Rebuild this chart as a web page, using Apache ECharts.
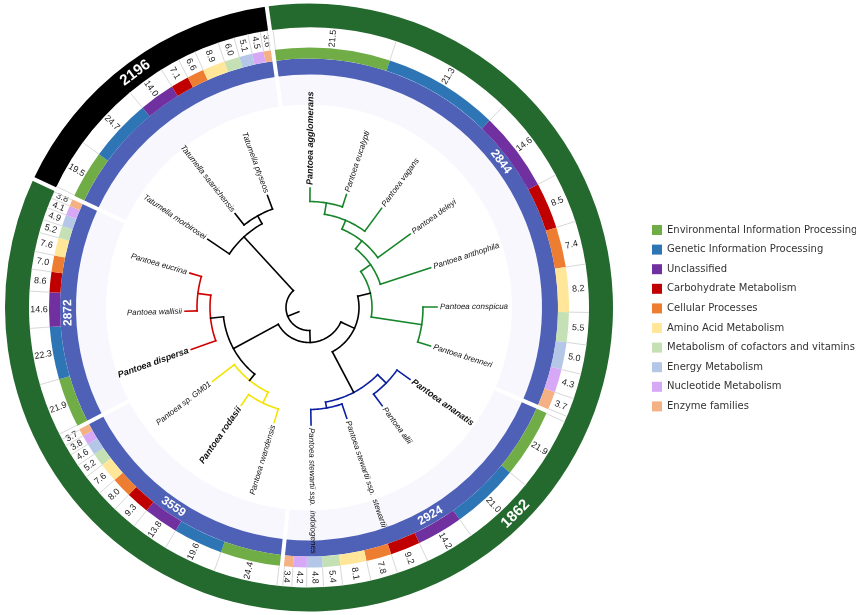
<!DOCTYPE html>
<html><head><meta charset="utf-8">
<script src="https://cdn.jsdelivr.net/npm/echarts@6/dist/echarts.min.js"></script>
<style>html,body{margin:0;padding:0;background:#fff}#c{width:856px;height:615px}</style>
</head><body><div id="c"></div>
<script>
// ---------------- DATA ----------------
const categories = ['Environmental Information Processing','Genetic Information Processing','Unclassified','Carbohydrate Metabolism','Cellular Processes','Amino Acid Metabolism','Metabolism of cofactors and vitamins','Energy Metabolism','Nucleotide Metabolism','Enzyme families'];
const genomeLabels = ['2844','2924','3559','2872',''];
const pct2844 = [21.5,21.3,14.6,8.5,7.4,8.2,5.5,5.0,4.3,3.7];
const pct2924 = [21.9,21.0,14.2,9.2,7.8,8.1,5.4,4.8,4.2,3.4];
const pct3559 = [24.4,19.6,13.8,9.3,8.0,7.6,5.2,4.6,3.8,3.7];
const pct2872 = [21.9,22.3,14.6,8.6,7.0,7.6,5.2,4.9,4.1,3.8];
const pct2196 = [19.5,24.7,14.0,7.1,6.6,8.9,6.0,5.1,4.5,3.6];
const percentages = [pct2844,pct2924,pct3559,pct2872,pct2196];
const outerLabels = ['1862','2196'];
const outerGroups = [[0,1,2,3],[4]];
const leafNames = ['Pantoea agglomerans','Pantoea eucalypti','Pantoea vagans','Pantoea deleyi','Pantoea anthophila','Pantoea conspicua','Pantoea brenneri','Pantoea ananatis','Pantoea allii','Pantoea stewartii ssp.  stewartii','Pantoea stewartii ssp.  indologenes','Pantoea rwandensis','Pantoea rodasii','Pantoea sp. GM01','Pantoea dispersa','Pantoea wallisii','Pantoea eucrina','Tatumella morbirosei','Tatumella saanichensis','Tatumella ptyseos'];
const boldLeaves = ['Pantoea agglomerans','Pantoea ananatis','Pantoea rodasii','Pantoea dispersa'];
// tree: node heights (branch depth), leaves by index, clade colour index
const treeSpec = {h:23, stub:11, c:[
  {h:35, c:[
    {h:50, c:[
      {h:63, clade:1, c:[
        {h:75, c:[
          {h:85, c:[
            {h:94.5, c:[
              {h:106, c:[{leaf:0,h:119.5},{leaf:1,h:119}]},
              {leaf:2,h:123}]},
            {leaf:3,h:125}]},
          {leaf:4,h:128}]},
        {h:114, c:[{leaf:5,h:128},{leaf:6,h:127.5}]}]},
      {h:96, clade:2, c:[
        {h:108, c:[{leaf:7,h:124},{leaf:8,h:122.5}]},
        {h:102, c:[{leaf:9,h:117},{leaf:10,h:117.5}]}]}]},
    {h:86, c:[
      {h:94, clade:4, c:[
        {h:106, c:[{leaf:11,h:120},{leaf:12,h:119}]},
        {leaf:13,h:121.5}]},
      {h:99, clade:3, c:[
        {leaf:14,h:125},
        {h:112, c:[{leaf:15,h:124},{leaf:16,h:124}]}]}]}]},
  {h:96, c:[
    {leaf:17,h:122},
    {h:105, c:[{leaf:18,h:119.5},{leaf:19,h:119.5}]}]}]};

// ---------------- LAYOUT / STYLE ----------------
const CAT_COLORS = ['#70ad47','#2e75b6','#7030a0','#c00000','#ed7d31','#ffe699','#c5e0b4','#b4c7e7','#d6a8f6','#f4b183'];
const TREE_COLORS = ['#000000','#16852a','#0a1fa0','#d00000','#f2e400'];
const SECTOR_SPAN = [121.5,72.5,56.5,52.5,57];
const RING_START = -8;
const LEAF_START = 0.5, LEAF_STEP = 17.85;
const R_FAINT=[203,233], R_BLUE=[233,249], R_COLOR=[249,260], R_LABEL=[260,280], R_OUTER=[280,304];
const sectorStart=[]; {let acc=RING_START; SECTOR_SPAN.forEach(w=>{sectorStart.push(acc);acc+=w;});}

// ---------------- helpers ----------------
function sectorShape(api,r0,r1,a0,a1){
  const c=api.coord([0,0]);
  const p0=api.coord([r0,a0]), p1=api.coord([r1,a0]), q=api.coord([r1,a1]);
  const pr0=Math.hypot(p0[0]-c[0],p0[1]-c[1]), pr1=Math.hypot(p1[0]-c[0],p1[1]-c[1]);
  let s=Math.atan2(p1[1]-c[1],p1[0]-c[0]); let e=Math.atan2(q[1]-c[1],q[0]-c[0]);
  while(e<=s) e+=2*Math.PI;
  return {cx:c[0],cy:c[1],r0:pr0,r:pr1,startAngle:s,endAngle:e,clockwise:true};
}
function radialDir(api,r,a){const c=api.coord([0,0]);const p=api.coord([r,a]);const L=Math.hypot(p[0]-c[0],p[1]-c[1]);return [(p[0]-c[0])/L,(p[1]-c[1])/L,p];}
function rot(dx,dy,th){ if(dx<th){dx=-dx;dy=-dy;} return -Math.atan2(dy,dx); }

// ---------------- tree layout ----------------
const edges=[]; // [kind(0 radial,1 arc), a0, a1, r0, r1, color]
function layout(n,color){
  if(n.clade!==undefined) color=n.clade;
  if(n.leaf!==undefined){ n.a=LEAF_START+LEAF_STEP*n.leaf; return; }
  n.c.forEach(ch=>layout(ch,color));
  const angs=n.c.map(ch=>ch.a);
  const mn=Math.min(...angs), mx=Math.max(...angs);
  n.a=(mn+mx)/2;
  edges.push([1,mn,mx,n.h,n.h,color]);
  n.c.forEach(ch=>edges.push([0,ch.a,ch.a,n.h,ch.h,color]));
}
layout(treeSpec,0);
edges.push([0,treeSpec.a,treeSpec.a,treeSpec.stub,treeSpec.h,0]);
const leafRows=[]; (function collect(n){ if(n.leaf!==undefined) leafRows.push([n.leaf,n.h,n.a]); else n.c.forEach(collect);})(treeSpec);

// ---------------- series ----------------
const series=[];
series.push({type:'custom',coordinateSystem:'polar',silent:true,data:[[0,0]],z:1,
  renderItem:(p,api)=>{const c=api.coord([0,0]);const a=api.coord([R_FAINT[0],0]),b=api.coord([R_FAINT[1],0]);
    return {type:'ring',shape:{cx:c[0],cy:c[1],r0:Math.hypot(a[0]-c[0],a[1]-c[1]),r:Math.hypot(b[0]-c[0],b[1]-c[1])},style:{fill:'#f7f7fd'}};}});
series.push({type:'custom',coordinateSystem:'polar',silent:true,z:2,
  data:SECTOR_SPAN.map((w,s)=>[sectorStart[s],sectorStart[s]+w,s]),
  renderItem:(p,api)=>{const a0=api.value(0),a1=api.value(1),s=api.value(2);const am=(a0+a1)/2;
    const ch=[{type:'sector',shape:sectorShape(api,R_BLUE[0],R_BLUE[1],a0,a1),style:{fill:'#4f60b7'}}];
    if(genomeLabels[s]){const q=api.coord([(R_BLUE[0]+R_BLUE[1])/2,am]);const q2=api.coord([(R_BLUE[0]+R_BLUE[1])/2,am+0.5]);
      let dx=q2[0]-q[0],dy=q2[1]-q[1];const L=Math.hypot(dx,dy);
      ch.push({type:'text',x:q[0],y:q[1],rotation:rot(dx/L,dy/L,-0.1),style:{text:genomeLabels[s],fill:'#fff',font:'bold 12px "Liberation Sans", Arial',align:'center',verticalAlign:'middle'}});}
    return {type:'group',children:ch};}});
categories.forEach((name,k)=>{
  series.push({type:'custom',name,coordinateSystem:'polar',z:3,itemStyle:{color:CAT_COLORS[k]},silent:true,
    data:percentages.map((pc,s)=>{const cum=pc.slice(0,k).reduce((x,y)=>x+y,0);const a0=sectorStart[s]+SECTOR_SPAN[s]*cum/100;return [a0,a0+SECTOR_SPAN[s]*pc[k]/100,pc[k],s];}),
    renderItem:(p,api)=>{const a0=api.value(0),a1=api.value(1),v=api.value(2);const am=(a0+a1)/2;
      const ch=[{type:'sector',shape:sectorShape(api,R_COLOR[0],R_COLOR[1],a0,a1),style:{fill:CAT_COLORS[k]}}];
      const d=radialDir(api,(R_LABEL[0]+R_LABEL[1])/2,am);
      ch.push({type:'text',x:d[2][0],y:d[2][1],rotation:rot(d[0],d[1],-0.12),style:{text:v.toFixed(1),fill:'#222',font:'9px "Liberation Sans", Arial',align:'center',verticalAlign:'middle'}});
      const seps=[k===0?a0+0.6:a0]; if(k===categories.length-1) seps.push(a1-0.6);
      seps.forEach(a=>{const u=api.coord([R_LABEL[0],a]),w=api.coord([R_LABEL[1],a]);
        ch.push({type:'line',shape:{x1:u[0],y1:u[1],x2:w[0],y2:w[1]},style:{stroke:'#d8d8d8',lineWidth:1}});});
      return {type:'group',children:ch};}});
});
series.push({type:'custom',coordinateSystem:'polar',silent:true,z:2,
  data:outerGroups.map((g,i)=>{const a0=sectorStart[g[0]];const a1=sectorStart[g[g.length-1]]+SECTOR_SPAN[g[g.length-1]];return [a0,a1,i];}),
  renderItem:(p,api)=>{const a0=api.value(0),a1=api.value(1),i=api.value(2);
    const am = i===0 ? 135 : (a0+a1)/2;
    const ch=[{type:'sector',shape:sectorShape(api,R_OUTER[0],R_OUTER[1],a0,a1),style:{fill:i===0?'#246a2e':'#000'}}];
    const q=api.coord([(R_OUTER[0]+R_OUTER[1])/2,am]);const q2=api.coord([(R_OUTER[0]+R_OUTER[1])/2,am+0.5]);
    let dx=q2[0]-q[0],dy=q2[1]-q[1];const L=Math.hypot(dx,dy);
    ch.push({type:'text',x:q[0],y:q[1],rotation:rot(dx/L,dy/L,-0.1),style:{text:outerLabels[i],fill:'#fff',font:'bold 15px "Liberation Sans", Arial',align:'center',verticalAlign:'middle'}});
    return {type:'group',children:ch};}});
series.push({type:'custom',coordinateSystem:'polar',silent:true,z:5,
  data:sectorStart.map((a,s)=>[a, outerGroups.some(g=>g[0]===s)?1:0]),
  renderItem:(p,api)=>{const a=api.value(0),full=api.value(1);const u=api.coord([R_FAINT[0]-3,a]),w=api.coord([full?R_OUTER[1]+2:R_COLOR[1]+0.5,a]);
    return {type:'line',shape:{x1:u[0],y1:u[1],x2:w[0],y2:w[1]},style:{stroke:'#fff',lineWidth:4}};}});
series.push({type:'custom',coordinateSystem:'polar',silent:true,z:6,data:edges,
  renderItem:(p,api)=>{const kind=api.value(0),a0=api.value(1),a1=api.value(2),r0=api.value(3),r1=api.value(4),col=TREE_COLORS[api.value(5)];
    if(kind===0){const u=api.coord([r0,a0]),w=api.coord([r1,a0]);return {type:'line',shape:{x1:u[0],y1:u[1],x2:w[0],y2:w[1]},style:{stroke:col,lineWidth:1.6,lineCap:'square'}};}
    const pts=[];const n=Math.max(2,Math.ceil((a1-a0)/1));for(let j=0;j<=n;j++){pts.push(api.coord([r0,a0+(a1-a0)*j/n]));}
    return {type:'polyline',shape:{points:pts},style:{stroke:col,lineWidth:1.6,fill:null,lineCap:'square'}};}});
series.push({type:'custom',coordinateSystem:'polar',silent:true,z:7,data:leafRows,
  renderItem:(p,api)=>{const i=api.value(0),r=api.value(1),a=api.value(2);const d=radialDir(api,r+3,a);
    const name=leafNames[i];const bold=boldLeaves.includes(name);let dx=d[0],dy=d[1];let align='left';
    if(dx<-0.02){dx=-dx;dy=-dy;align='right';}
    return {type:'text',x:d[2][0],y:d[2][1],rotation:-Math.atan2(dy,dx),style:{text:name,fill:'#111',font:(bold?'italic bold 9px':'italic 8px')+' "Liberation Sans", Arial',align,verticalAlign:'middle'}};}});

const option={animation:false,backgroundColor:'#fff',
  polar:{center:[309,307.5],radius:304},
  angleAxis:{type:'value',min:0,max:360,startAngle:90,clockwise:true,show:false},
  radiusAxis:{type:'value',min:0,max:304,show:false},
  legend:{data:categories,orient:'vertical',left:652,top:223,itemWidth:10,itemHeight:10,itemGap:5.6,icon:'rect',selectedMode:false,padding:0,
    textStyle:{fontFamily:'"DejaVu Sans", Verdana',fontSize:10,color:'#333',lineHeight:14}},
  series};
const chart=echarts.init(document.getElementById('c'));
chart.setOption(option);
</script></body></html>
